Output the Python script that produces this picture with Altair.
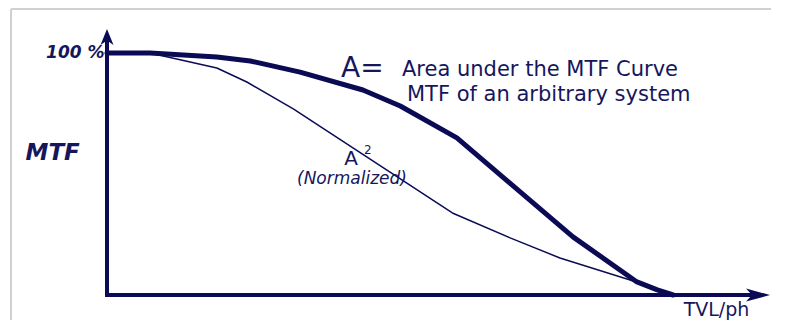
import altair as alt
import pandas as pd

# ---- data (x: TVL/ph in % of cut-off, y: MTF in %) ----
MTF_X = [0, 7.6, 19.4, 25.3, 34.1, 45.2, 51.8, 61.8, 82.3, 93.6, 97.2, 100]
MTF_Y = [100, 100, 98.3, 96.7, 92.1, 84.7, 78.1, 64.9, 24.0, 5.4, 2.1, 0]

A2_X = [0, 7.6, 19.4, 24.7, 32.9, 61.0, 71.2, 80.0, 92.4, 100]
A2_Y = [100, 100, 93.8, 88.0, 76.9, 33.9, 23.6, 15.3, 6.2, 0]

X_TIP = 117.1     # end of the x axis arrow
Y_TIP = 109.9     # end of the y axis arrow
Y_TICKS = [100]

NAVY = "#0b0b55"
TEXT = "#16165c"
FONT = "DejaVu Sans"
W, H = 663, 266

xs = alt.Scale(domain=[0, X_TIP], nice=False, zero=False)
ys = alt.Scale(domain=[0, Y_TIP], nice=False, zero=False)

x_axis = alt.Axis(domain=False, ticks=False, tickSize=0, labels=False, grid=False,
                  title="TVL/ph", titleFont=FONT, titleFontSize=19,
                  titleFontWeight="normal", titleColor=TEXT,
                  titleX=609, titleY=20, titleAlign="center",
                  titleBaseline="alphabetic")
y_axis = alt.Axis(values=Y_TICKS, domain=False, ticks=False, tickSize=0, grid=False,
                  labelExpr="'100 %'", labelFont=FONT, labelFontSize=17,
                  labelFontWeight="bold", labelFontStyle="italic",
                  labelColor=TEXT, labelPadding=3,
                  title="MTF", titleAngle=0, titleX=-82, titleY=123,
                  titleAlign="left", titleBaseline="middle", titleFont=FONT,
                  titleFontSize=23, titleFontWeight="bold",
                  titleFontStyle="italic", titleColor=TEXT)


def X(field="x"):
    return alt.X(f"{field}:Q", scale=xs, axis=x_axis)


def Y(field="y"):
    return alt.Y(f"{field}:Q", scale=ys, axis=y_axis)


# axis lines drawn in data space
y_line = alt.Chart(pd.DataFrame({"x": [0], "y": [0], "y2": [Y_TIP - 4.2]})).mark_rule(
    color=NAVY, strokeWidth=4, strokeCap="square"
).encode(x=X(), y=Y(), y2="y2:Q")

x_line = alt.Chart(pd.DataFrame({"x": [0], "x2": [X_TIP - 3.4], "y": [0]})).mark_rule(
    color=NAVY, strokeWidth=4, strokeCap="square"
).encode(x=X(), x2="x2:Q", y=Y())

up_arrow = alt.Chart(pd.DataFrame({"x": [0], "y": [Y_TIP]})).mark_point(
    shape="M0,0 L0.65,1.6 L0,1.15 L-0.65,1.6 Z", size=400, filled=True,
    color=NAVY, opacity=1, strokeWidth=0
).encode(x=X(), y=Y())

right_arrow = alt.Chart(pd.DataFrame({"x": [X_TIP], "y": [0]})).mark_point(
    shape="M0,0 L-2.4,-0.65 L-1.8,0 L-2.4,0.65 Z", size=400, filled=True,
    color=NAVY, opacity=1, strokeWidth=0
).encode(x=X(), y=Y())

thin = alt.Chart(pd.DataFrame({"x": A2_X, "y": A2_Y})).mark_line(
    color=NAVY, strokeWidth=1.5, strokeJoin="round"
).encode(x=X(), y=Y(), order="x:Q")

thick = alt.Chart(pd.DataFrame({"x": MTF_X, "y": MTF_Y})).mark_line(
    color=NAVY, strokeWidth=5, strokeJoin="round", strokeCap="round"
).encode(x=X(), y=Y(), order="x:Q")

# light grey picture frame (top and left edges only)
frame_top = alt.Chart(pd.DataFrame({"k": [0]})).mark_rule(color="#d0d0d0", strokeWidth=2).encode(
    x=alt.value(-96), x2=alt.value(664), y=alt.value(-20))
frame_left = alt.Chart(pd.DataFrame({"k": [0]})).mark_rule(color="#d0d0d0", strokeWidth=2).encode(
    x=alt.value(-96), y=alt.value(-20), y2=alt.value(300))


def label(txt, x, y, size, align="left", style="normal", weight="normal"):
    return alt.Chart(pd.DataFrame({"t": [txt]})).mark_text(
        align=align, baseline="alphabetic", font=FONT, fontSize=size,
        fontStyle=style, fontWeight=weight, color=TEXT
    ).encode(x=alt.value(x), y=alt.value(y), text="t:N")


texts = [
    label("A=", 234, 48, 28),
    label("Area under the MTF Curve", 295, 47, 21),
    label("MTF of an arbitrary system", 300, 72, 21),
    label("A", 244, 136, 20, align="center"),
    label("2", 257, 125, 12),
    label("(Normalized)", 245, 155, 17, align="center", style="italic"),
]

chart = alt.layer(
    frame_top, frame_left, thin, thick, y_line, x_line, up_arrow, right_arrow, *texts
).properties(
    width=W, height=H,
    autosize=alt.AutoSizeParams(type="none"),
    padding={"left": 99, "top": 21, "right": 2, "bottom": 25},
).configure_view(stroke=None, strokeWidth=0)

chart.save("out.html", embed_options={"renderer": "svg", "actions": False})
